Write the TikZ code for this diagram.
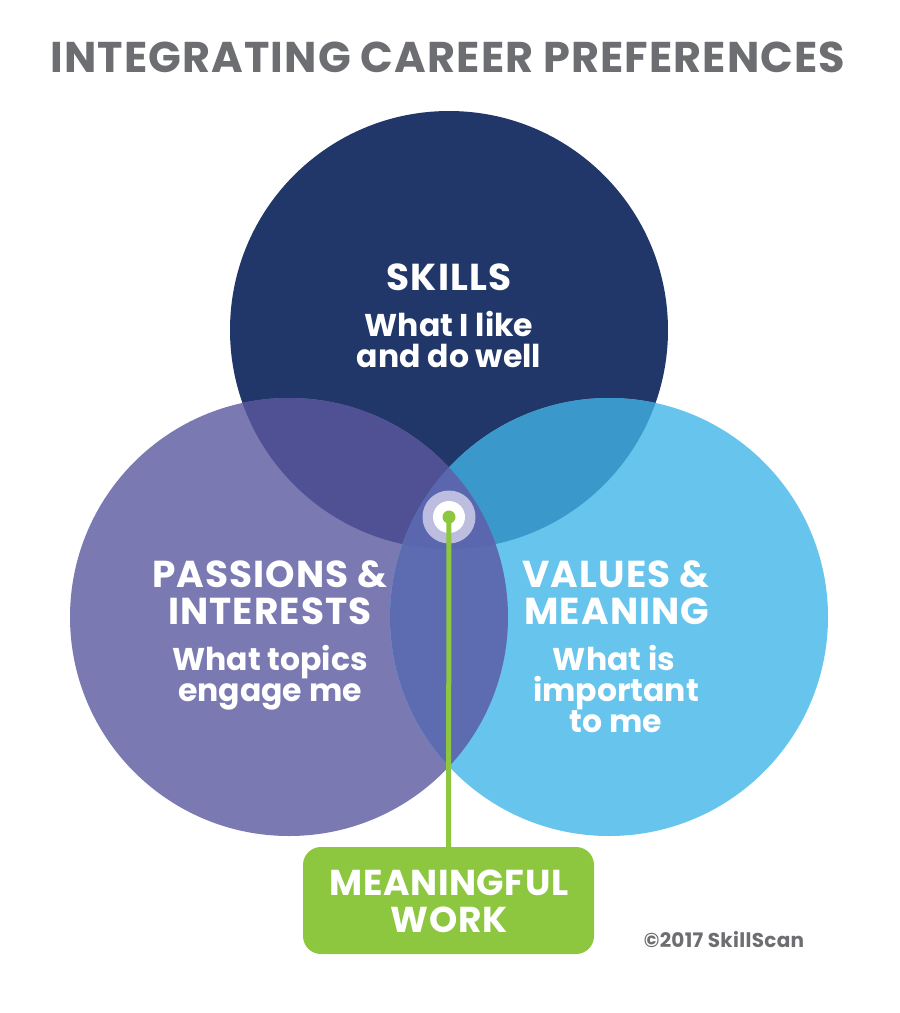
\documentclass[tikz,border=0pt]{standalone}
\usepackage{fontspec}
\setmainfont{Poppins}
\usetikzlibrary{positioning}

\definecolor{titlegray}{HTML}{6D6E71}
\definecolor{skillblue}{HTML}{213769}
\definecolor{passionpurple}{HTML}{7A79B2}
\definecolor{valuecyan}{HTML}{67C4EC}
\definecolor{skillpassion}{HTML}{4F5194}
\definecolor{skillvalue}{HTML}{3A98CB}
\definecolor{passionvalue}{HTML}{5D6BB0}
\definecolor{allthree}{HTML}{5A66AE}
\definecolor{ringlilac}{HTML}{BCBDDF}
\definecolor{workgreen}{HTML}{8DC63F}

\begin{document}
\begin{tikzpicture}[
  x=1pt, y=-1pt,
  head/.style={text=white, font=\fontsize{37.5}{37}\selectfont\bfseries\addfontfeature{LetterSpace=3}, anchor=base, inner sep=0pt},
  sub/.style={text=white, font=\fontsize{31.5}{31}\selectfont\bfseries, anchor=base, inner sep=0pt},
  boxtext/.style={text=white, font=\fontsize{36}{37}\selectfont\bfseries\addfontfeature{LetterSpace=1.5}, anchor=base, inner sep=0pt},
  dot/.style={circle, fill=#1, draw=none, inner sep=0pt},
  link/.style={line width=5pt, workgreen}
]

% === Canvas ===
\useasboundingbox (0,0) rectangle (900,1013);
\fill[white] (0,0) rectangle (900,1013);

% === Circle centres ===
\coordinate (S) at (449,330);   % skills (top)
\coordinate (P) at (289,617);   % passions (left)
\coordinate (V) at (609,617);   % values (right)

% === Circles ===
\fill[skillblue]     (S) circle (219pt);
\fill[passionpurple] (P) circle (219pt);
\fill[valuecyan]     (V) circle (219pt);

% === Overlaps ===
\begin{scope}
  \clip (S) circle (219pt);
  \fill[skillpassion] (P) circle (219pt);
  \fill[skillvalue]   (V) circle (219pt);
\end{scope}
\begin{scope}
  \clip (P) circle (219pt);
  \fill[passionvalue] (V) circle (219pt);
  \clip (S) circle (219pt);
  \fill[allthree] (V) circle (219pt);
\end{scope}

% === Title ===
\node[text=titlegray, font=\fontsize{43}{43}\selectfont\bfseries\addfontfeature{LetterSpace=2.5}, anchor=base, inner sep=0pt]
  (title) at (448,72) {INTEGRATING CAREER PREFERENCES};

% === Skills ===
\node[head] (skillsA) at (449,290) {SKILLS};
\node[sub]  (skillsB) at (449,336) {What I like};
\node[sub]  (skillsC) at (449,367) {and do well};

% === Passions ===
\node[head] (passA) at (270,587) {PASSIONS \&};
\node[head] (passB) at (270,624) {INTERESTS};
\node[sub]  (passC) at (270,670) {What topics};
\node[sub]  (passD) at (270,701) {engage me};

% === Values ===
\node[head] (valA) at (616,587) {VALUES \&};
\node[head] (valB) at (617,624) {MEANING};
\node[sub]  (valC) at (614,670) {What is};
\node[sub]  (valD) at (616,701) {important};
\node[sub]  (valE) at (616,732) {to me};

% === Meaningful work ===
\node[fill=workgreen, rounded corners=18pt, minimum width=291pt, minimum height=107pt, inner sep=0pt]
  (work) at (448.5,900.5) {};
\node[boxtext] (workA) at (449,895) {MEANINGFUL};
\node[boxtext] (workB) at (449,932) {WORK};

\node[dot=ringlilac, minimum size=53pt] (ring) at (449,517) {};
\node[dot=white, minimum size=32pt] (hole) at (ring) {};
\draw[link] (ring.center) -- (work.north);
\node[dot=workgreen, minimum size=13pt] (hub) at (ring) {};

% === Credit ===
\node[text=titlegray, font=\fontsize{20}{20}\selectfont\bfseries\addfontfeature{LetterSpace=1.5}, anchor=base, inner sep=0pt]
  (credit) at (724,947) {©2017 SkillScan};

\end{tikzpicture}
\end{document}
